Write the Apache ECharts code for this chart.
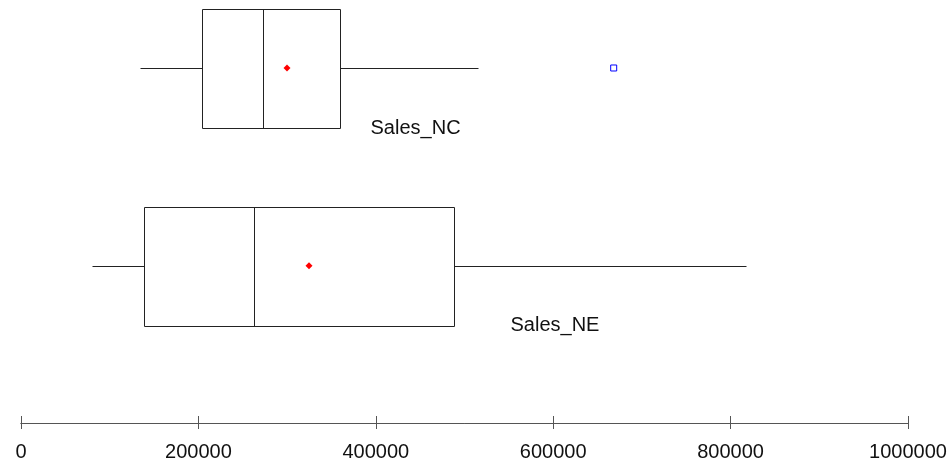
<!DOCTYPE html>
<html>
<head>
<meta charset="utf-8">
<script src="https://cdn.jsdelivr.net/npm/echarts@6/dist/echarts.min.js"></script>
<style>html,body{margin:0;padding:0;background:#fff}#c{width:950px;height:463px}</style>
</head>
<body>
<div id="c"></div>
<script>
// Data
var categories = ['Sales_NE', 'Sales_NC'];          // y positions 1, 2
var boxStats = [                                      // [low, Q1, median, Q3, high]
  [79700, 138700, 262700, 488500, 817400],
  [134200, 203700, 273200, 358900, 514900]
];
var means = [324700, 299900];
var outliers = [[668200, 2]];                         // [value, category position]
var labelAnchors = [551300, 393500];                  // x value where each name starts
var tickLabels = [0, 200000, 400000, 600000, 800000, 1000000];

var chart = echarts.init(document.getElementById('c'), null, {renderer: 'canvas'});
var font = '"Liberation Sans", Arial, sans-serif';
var lineCol = '#222222';

var boxData = boxStats.map(function (s, i) { return [i + 1].concat(s); });
var meanData = means.map(function (m, i) { return [m, i + 1]; });
var labelData = labelAnchors.map(function (v, i) { return {value: [v, i + 1 - 0.305], name: categories[i]}; });

var xAxisBase = {
  type: 'value', min: 0, max: 1000000, interval: 200000,
  splitLine: {show: false},
  axisLine: {show: true, onZero: false, lineStyle: {color: '#555', width: 1}}
};

chart.setOption({
  animation: false,
  grid: {left: 21, right: 42, top: 0, bottom: 40},
  xAxis: [
    Object.assign({}, xAxisBase, {
      axisTick: {show: true, length: 6, lineStyle: {color: '#555'}},
      axisLabel: {show: true, margin: 19, color: '#111', fontSize: 20, fontFamily: font,
        formatter: function (v) { return tickLabels.indexOf(v) >= 0 ? String(v) : ''; }}
    }),
    Object.assign({}, xAxisBase, {
      position: 'bottom',
      axisTick: {show: true, inside: true, length: 7, lineStyle: {color: '#555'}},
      axisLabel: {show: false}
    })
  ],
  yAxis: {type: 'value', min: 0.204, max: 2.344, show: false},
  series: [
    {
      type: 'custom',
      data: boxData,
      encode: {x: [1, 2, 3, 4, 5], y: 0},
      renderItem: function (params, api) {
        var y = api.value(0);
        var low = api.coord([api.value(1), y]);
        var q1 = api.coord([api.value(2), y]);
        var med = api.coord([api.value(3), y]);
        var q3 = api.coord([api.value(4), y]);
        var high = api.coord([api.value(5), y]);
        var h = api.size([0, 0.3])[1];
        var cy = Math.round(low[1]) + 0.5;
        var r = function (v) { return Math.round(v) + 0.5; };
        var style = {stroke: lineCol, lineWidth: 1, fill: null};
        return {
          type: 'group',
          children: [
            {type: 'line', shape: {x1: r(low[0]), y1: cy, x2: r(q1[0]), y2: cy}, style: style},
            {type: 'line', shape: {x1: r(q3[0]), y1: cy, x2: r(high[0]), y2: cy}, style: style},
            {type: 'rect', shape: {x: r(q1[0]), y: r(cy - h), width: Math.round(q3[0] - q1[0]), height: Math.round(2 * h)},
              style: {stroke: lineCol, lineWidth: 1, fill: '#fff'}},
            {type: 'line', shape: {x1: r(med[0]), y1: r(cy - h), x2: r(med[0]), y2: r(cy + h)}, style: style}
          ]
        };
      }
    },
    {
      type: 'scatter', data: meanData, symbol: 'diamond', symbolSize: 7,
      itemStyle: {color: '#ff0000', opacity: 1}, z: 5
    },
    {
      type: 'scatter', data: outliers, symbol: 'rect', symbolSize: 6,
      itemStyle: {color: '#fff', borderColor: '#0000ff', borderWidth: 1, opacity: 1}, z: 5
    },
    {
      type: 'scatter', data: labelData, symbol: 'circle', symbolSize: 1,
      itemStyle: {color: 'rgba(0,0,0,0)', opacity: 1}, z: 6,
      label: {show: true, position: 'right', distance: 0, formatter: '{b}', opacity: 1,
        color: '#111', fontSize: 20, fontFamily: font}
    }
  ]
});
</script>
</body>
</html>
